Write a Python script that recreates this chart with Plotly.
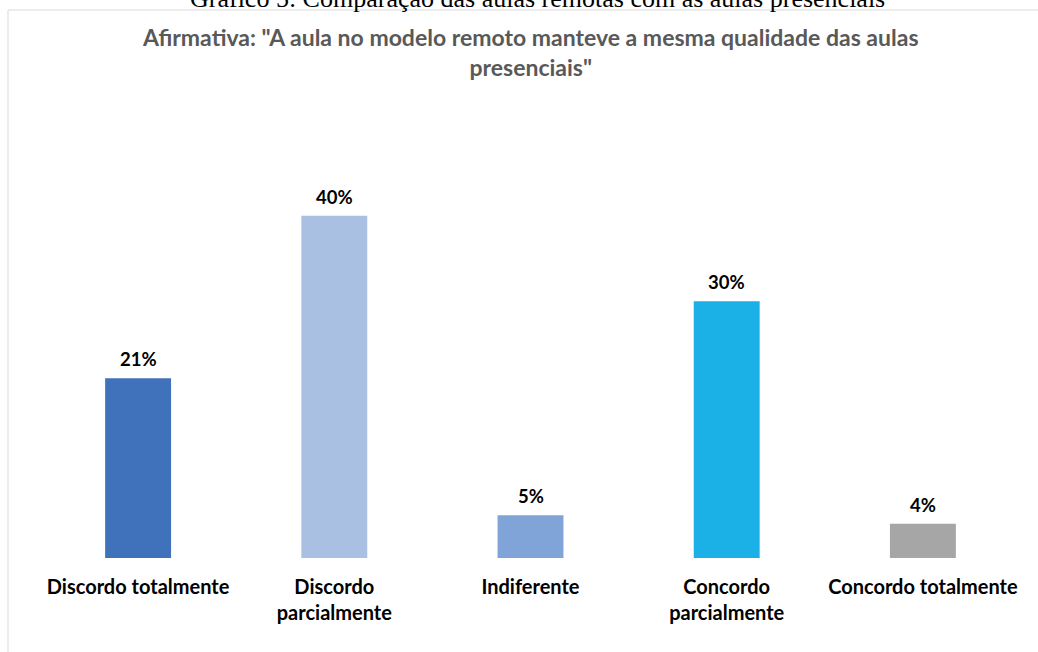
import plotly.graph_objects as go

categories = ["Discordo totalmente", "Discordo<br>parcialmente", "Indiferente",
              "Concordo<br>parcialmente", "Concordo totalmente"]
values = [0.21, 0.40, 0.05, 0.30, 0.04]
labels = ["21%", "40%", "5%", "30%", "4%"]
colors = ["#3F72BA", "#A9C0E2", "#81A4D8", "#1BB0E6", "#A6A6A6"]

FONT = "Lato"

fig = go.Figure(go.Bar(
    x=categories, y=values, marker_color=colors, marker_line_width=0,
    hoverinfo="skip",
))

annotations = [
    dict(x=c, y=v, xref="x", yref="y", text=f"<b>{t}</b>", showarrow=False,
         xanchor="center", yanchor="middle", yshift=19,
         font=dict(family=FONT, size=18.5, color="#000000"))
    for c, v, t in zip(categories, values, labels)
]
annotations += [
    dict(text='<b>Afirmativa: "A aula no modelo remoto manteve a mesma qualidade das aulas<br>presenciais"</b>',
         xref="paper", yref="paper", x=(530 - 40) / 981, y=(558 - 52) / 385,
         xanchor="center", yanchor="middle", showarrow=False,
         font=dict(family=FONT, size=23, color="#595959")),
    dict(text="Gráfico 5: Comparação das aulas remotas com as aulas presenciais",
         xref="paper", yref="paper", x=(537 - 40) / 981, y=(558 + 1.3) / 385,
         xanchor="center", yanchor="middle", showarrow=False,
         font=dict(family="Liberation Serif", size=26, color="#000000")),
]

fig.update_layout(
    width=1038, height=652,
    margin=dict(l=40, r=17, t=173, b=94),
    paper_bgcolor="white", plot_bgcolor="white",
    bargap=0.664, showlegend=False,
    xaxis=dict(showline=False, ticks="", showgrid=False,
               tickfont=dict(family=FONT, size=20, color="#000000", weight="bold"),
               ticklabelstandoff=15),
    yaxis=dict(range=[0, 0.45], visible=False),
    annotations=annotations,
    shapes=[
        dict(type="path", xref="paper", yref="paper",
             path=f"M {(8-40)/981} {(558-700)/385} L {(8-40)/981} {(558-10)/385} L {(1100-40)/981} {(558-10)/385}",
             line=dict(color="#D9D9D9", width=1)),
    ],
)

fig.write_html("out.html")
